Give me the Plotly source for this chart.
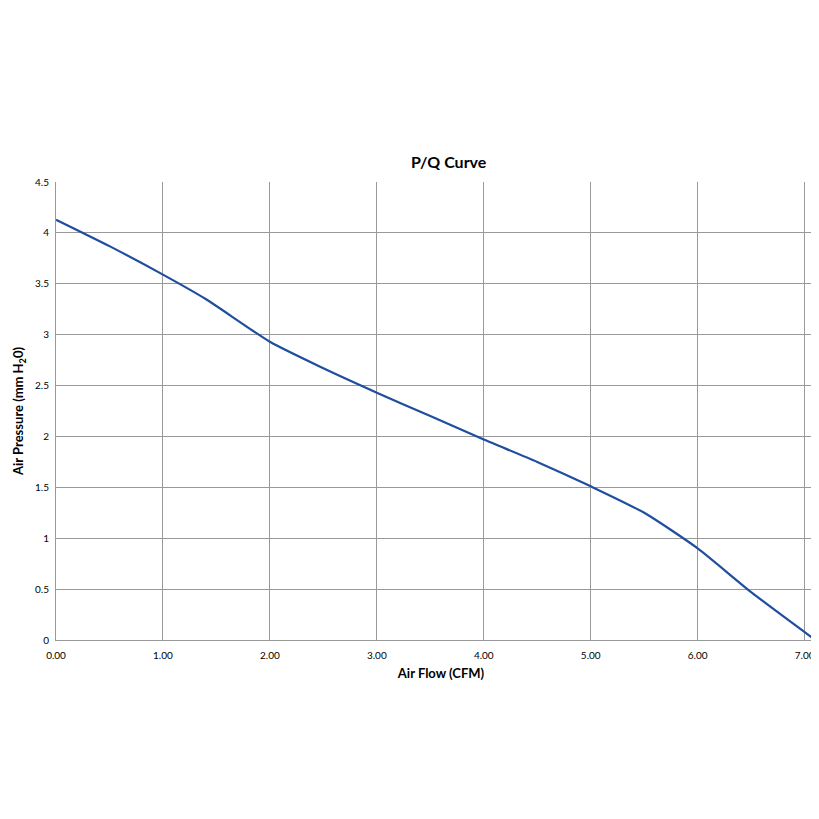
import plotly.graph_objects as go

flow = [0, 0.5, 1.0, 1.4, 2.0, 2.5, 3.0, 3.5, 4.0, 4.5, 5.0, 5.5, 6.0, 6.5, 7.1]
pressure = [4.13, 3.87, 3.59, 3.35, 2.93, 2.67, 2.43, 2.2, 1.97, 1.75, 1.51, 1.25, 0.9, 0.47, 0.0]

fig = go.Figure(go.Scatter(x=flow, y=pressure, mode="lines", line=dict(color="#1f4e9e", width=2.2, shape="spline", smoothing=0.6)))
fig.update_layout(
    width=819, height=819, plot_bgcolor="white", paper_bgcolor="white",
    margin=dict(l=48, r=1, t=174, b=187, autoexpand=False), showlegend=False,
    title=dict(text="<b>P/Q Curve</b>", x=0.538, xanchor="center", y=0.812, yanchor="middle",
               font=dict(family="Lato", size=16, color="black")),
    font=dict(family="Lato", color="black"),
)
fig.update_xaxes(range=[0, 7.2], tickvals=[0,1,2,3,4,5,6,7], tickformat=".2f", automargin=False,
                 ticks="outside", ticklen=6, tickcolor="white",
                 showgrid=True, gridcolor="#999999", gridwidth=1, showline=True, linecolor="#999999",
                 tickfont=dict(size=10), title=dict(text="<b>Air Flow (CFM)</b>", font=dict(size=13), standoff=8), zeroline=False)
fig.update_yaxes(range=[0, 4.5], dtick=0.5, showgrid=True, gridcolor="#999999", gridwidth=1, automargin=False,
                 ticks="outside", ticklen=4, tickcolor="white",
                 showline=True, linecolor="#999999", mirror=True, tickfont=dict(size=10),
                 title=dict(text="<b>Air Pressure (mm H<sub>2</sub>0)</b>", font=dict(size=13), standoff=8), zeroline=False)
fig.write_html("out.html")
